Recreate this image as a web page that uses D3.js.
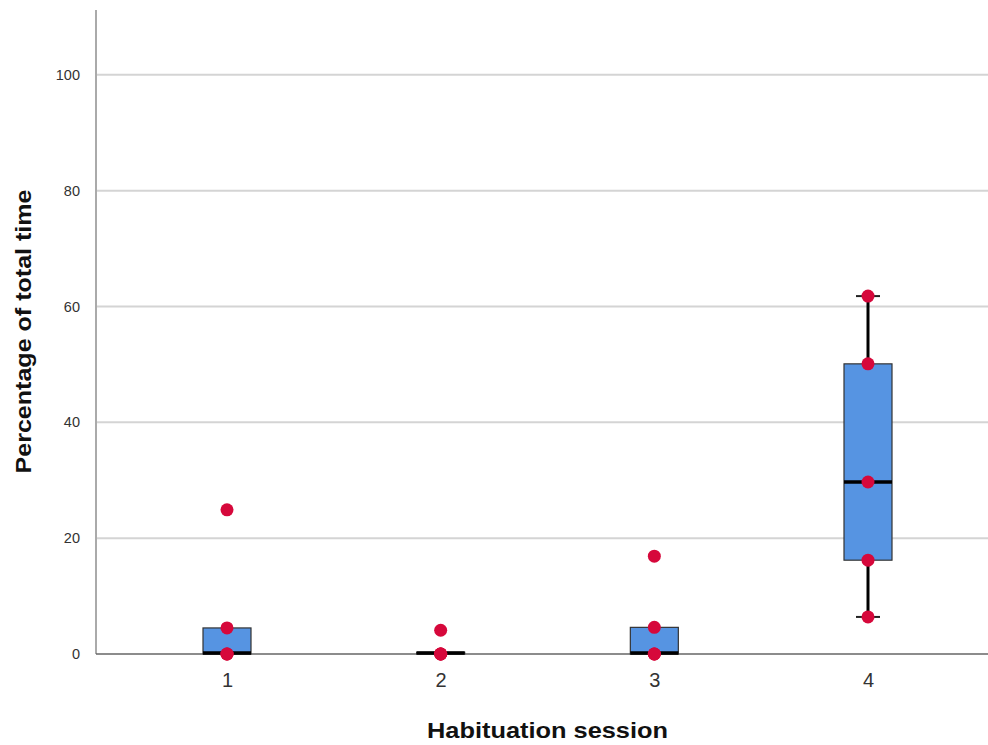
<!DOCTYPE html>
<html><head><meta charset="utf-8">
<script src="https://cdn.jsdelivr.net/npm/d3@7"></script>
<style>body{margin:0;background:#fff}</style>
</head><body>
<svg id="c" width="988" height="745"></svg>
<script>
const sessions = ["1","2","3","4"];
const q1 =      [0, 0, 0, 16.2];
const median =  [0, 0, 0, 29.7];
const q3 =      [4.5, 0.3, 4.6, 50.1];
const whiskLo = [null, null, null, 6.4];
const whiskHi = [null, null, null, 61.8];
const points = [
  [24.9, 4.5, 0, 0, 0],
  [4.1, 0, 0, 0, 0],
  [16.9, 4.6, 0, 0, 0],
  [61.8, 50.1, 29.7, 16.2, 6.4]
];
const yTicks = [0, 20, 40, 60, 80, 100];

(function () {
const svg = d3.select("#c");
const pL = 96, pR = 988, pT = 10, pB = 654;
const y = d3.scaleLinear().domain([0, 111.2]).range([pB, pT]);
const x = d3.scalePoint().domain(sessions).range([227, 868]);
const bw = 48;
const FONT = "Liberation Sans, Arial, sans-serif";

svg.append("g").selectAll("line").data(yTicks.filter(d => d > 0)).join("line")
  .attr("x1", pL).attr("x2", pR)
  .attr("y1", d => y(d)).attr("y2", d => y(d))
  .attr("stroke", "#d4d4d4").attr("stroke-width", 2);

const ya = svg.append("g").attr("transform", `translate(${pL},0)`)
  .call(d3.axisLeft(y).tickValues(yTicks).tickSize(0).tickPadding(16));
ya.select(".domain").remove();
ya.selectAll("text").attr("font-family", FONT).attr("font-size", 14.5).attr("fill", "#333");
svg.append("line").attr("x1", pL).attr("x2", pL).attr("y1", pT).attr("y2", pB)
  .attr("stroke", "#aaa").attr("stroke-width", 2);

const xa = svg.append("g").attr("transform", `translate(0,${pB})`)
  .call(d3.axisBottom(x).tickSize(0).tickPadding(19));
xa.select(".domain").remove();
xa.selectAll("text").attr("font-family", FONT).attr("font-size", 20).attr("fill", "#333");
svg.append("line").attr("x1", pL).attr("x2", pR).attr("y1", pB).attr("y2", pB)
  .attr("stroke", "#666").attr("stroke-width", 1.5);

const g = svg.append("g");
sessions.forEach((s, i) => {
  const cx = x(s);
  if (whiskHi[i] != null) {
    g.append("line").attr("x1", cx).attr("x2", cx).attr("y1", y(q3[i])).attr("y2", y(whiskHi[i]))
      .attr("stroke", "#000").attr("stroke-width", 3);
    g.append("line").attr("x1", cx - 12).attr("x2", cx + 12).attr("y1", y(whiskHi[i])).attr("y2", y(whiskHi[i]))
      .attr("stroke", "#222").attr("stroke-width", 2);
  }
  if (whiskLo[i] != null) {
    g.append("line").attr("x1", cx).attr("x2", cx).attr("y1", y(q1[i])).attr("y2", y(whiskLo[i]))
      .attr("stroke", "#000").attr("stroke-width", 3);
    g.append("line").attr("x1", cx - 12).attr("x2", cx + 12).attr("y1", y(whiskLo[i])).attr("y2", y(whiskLo[i]))
      .attr("stroke", "#222").attr("stroke-width", 2);
  }
  const h = y(q1[i]) - y(q3[i]);
  g.append("rect").attr("x", cx - bw / 2).attr("y", y(q3[i])).attr("width", bw).attr("height", Math.max(h, 0))
    .attr("fill", "#5694e2").attr("stroke", "#333").attr("stroke-width", 1.2);
  const my = y(median[i]) - (median[i] === 0 ? 1 : 0);
  g.append("line").attr("x1", cx - bw / 2).attr("x2", cx + bw / 2).attr("y1", my).attr("y2", my)
    .attr("stroke", "#000").attr("stroke-width", 3.5);
});

sessions.forEach((s, i) => {
  g.append("g").selectAll("circle").data(points[i]).join("circle")
    .attr("cx", x(s)).attr("cy", d => y(d)).attr("r", 6.5)
    .attr("fill", "#d6083b");
});

svg.append("text").attr("x", 547.5).attr("y", 738).attr("text-anchor", "middle")
  .attr("font-family", FONT).attr("font-weight", "bold")
  .attr("font-size", 22).attr("fill", "#111")
  .attr("textLength", 241).attr("lengthAdjust", "spacingAndGlyphs")
  .text("Habituation session");
svg.append("text").attr("transform", "translate(31,331.5) rotate(-90)").attr("text-anchor", "middle")
  .attr("font-family", FONT).attr("font-weight", "bold")
  .attr("font-size", 22).attr("fill", "#111")
  .attr("textLength", 284).attr("lengthAdjust", "spacingAndGlyphs")
  .text("Percentage of total time");
})();
</script>
</body></html>
